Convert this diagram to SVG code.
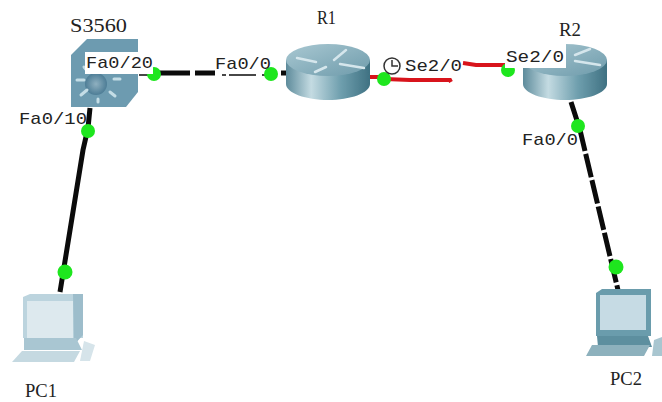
<svg xmlns="http://www.w3.org/2000/svg" width="662" height="402" viewBox="0 0 662 402">
<defs>
<linearGradient id="rb" x1="0" x2="1" y1="0" y2="0"><stop offset="0" stop-color="#5d8b9b"/><stop offset=".3" stop-color="#c4dbe2"/><stop offset=".65" stop-color="#6f9fae"/><stop offset="1" stop-color="#3f7182"/></linearGradient>
<linearGradient id="rt" x1="0" x2="1" y1="0" y2="1"><stop offset="0" stop-color="#a9c8d2"/><stop offset="1" stop-color="#6e9bab"/></linearGradient>
<radialGradient id="hub"><stop offset="0" stop-color="#8fb0c0"/><stop offset="1" stop-color="#4d7d96"/></radialGradient>
<filter id="soft" x="-10%" y="-10%" width="120%" height="120%"><feGaussianBlur stdDeviation=".7"/></filter>
<g id="router"><path d="M-42-12V12C-42 21-22 28 0 28S42 21 42 12V-12Z" fill="url(#rb)"/><ellipse cx="0" cy="-12" rx="42" ry="16" fill="url(#rt)"/></g>
</defs>
<style>
text{font-family:"Liberation Mono","DejaVu Sans Mono",monospace;font-size:17px;fill:#222}
.n{font-family:"Liberation Serif",serif;font-size:18px}
.eth{stroke:#0b0b0b;stroke-width:5;fill:none}
.thin{stroke:#0b0b0b;stroke-width:1.5;fill:none}
.ser{stroke:#d8141c;stroke-width:4;fill:none}
.dot{fill:#1ee61e}
.ray{stroke:#c4dde6;stroke-width:3;stroke-linecap:round;fill:none}
.wisp{stroke:#d5e6ec;stroke-width:2.5;fill:none;stroke-linecap:round}
</style>
<rect width="662" height="402" fill="#fff"/>
<g id="connectors">
<path class="eth" d="M90 108L88 128L83 150L60 292"/>
<path class="eth" d="M154 73H190M195 73H215"/>
<path class="thin" d="M139 75H150M222 75H226M229 75H256M262 75H266"/>
<path class="eth" d="M281 73H286"/>
<path class="ser" d="M370 77H384"/>
<path class="ser" d="M385 79L410 80H450L451 82"/>
<path class="ser" d="M463 63L476 65H506"/>
<path class="eth" d="M571 102L580 130L618 290" stroke-dasharray="24 3"/>
<circle class="dot" cx="154" cy="74" r="7"/>
<circle class="dot" cx="271" cy="74" r="7"/>
<circle class="dot" cx="384" cy="79" r="7"/>
<circle class="dot" cx="508" cy="70" r="7"/>
<circle class="dot" cx="88" cy="131" r="7"/>
<circle class="dot" cx="578" cy="126" r="7"/>
<circle class="dot" cx="65" cy="272" r="7.5"/>
<circle class="dot" cx="616" cy="267" r="7.5"/>
</g>
<g id="S3560">
<g filter="url(#soft)">
<path d="M87 39H138V92L126 107H71V55Z" fill="#6d9bb0"/>
<circle cx="96" cy="84" r="11" fill="url(#hub)"/>
<path class="ray" d="M77 80H84M114 79H120M81 95L87 90M84 67L88 72M98 99V102M110 92L115 96"/>
</g>
<rect x="85" y="52" width="68" height="22" fill="#fff"/>
<text class="n" x="70" y="32" textLength="57" lengthAdjust="spacingAndGlyphs">S3560</text>
<text x="86" y="68" textLength="67" lengthAdjust="spacingAndGlyphs">Fa0/20</text>
<text x="19" y="124" textLength="68" lengthAdjust="spacingAndGlyphs">Fa0/10</text>
</g>
<g id="R1">
<g filter="url(#soft)">
<use href="#router" x="328" y="72"/>
<path class="wisp" d="M297 58L316 62M334 60L346 50M340 64L364 68M315 72L326 67"/>
</g>
<text class="n" x="317" y="24" textLength="19" lengthAdjust="spacingAndGlyphs">R1</text>
<text x="215" y="69" textLength="56" lengthAdjust="spacingAndGlyphs">Fa0/0</text>
</g>
<g id="R2">
<g filter="url(#soft)">
<use href="#router" x="565" y="72"/>
<path class="wisp" d="M575 55L590 49M575 61L600 65"/>
</g>
<rect x="505" y="44" width="61" height="24" fill="#fff"/>
<text class="n" x="559" y="36" textLength="22" lengthAdjust="spacingAndGlyphs">R2</text>
<circle cx="392" cy="66" r="8" fill="#fff" stroke="#333" stroke-width="1.5"/>
<path d="M392 60V66H398" fill="none" stroke="#333" stroke-width="1.5"/>
<text x="405" y="71" textLength="57" lengthAdjust="spacingAndGlyphs">Se2/0</text>
<text x="506" y="62" textLength="58" lengthAdjust="spacingAndGlyphs">Se2/0</text>
<text x="522" y="145" textLength="56" lengthAdjust="spacingAndGlyphs">Fa0/0</text>
</g>
<g id="PC1">
<g filter="url(#soft)">
<path d="M23 297L30 294H83V338H23Z" fill="#bcd4de"/>
<path d="M73 294H83V335L74 345Z" fill="#9dbdcb"/>
<rect x="27" y="301" width="46" height="37" fill="#dde9ee"/>
<path d="M24 338H76L82 350H24Z" fill="#a9c6d2"/>
<path d="M22 351H80L74 362H12Z" fill="#c5d9e1"/>
<path d="M84 341L95 345L90 361H80Z" fill="#d6e4ea"/>
</g>
<text class="n" x="25" y="397" textLength="32" lengthAdjust="spacingAndGlyphs">PC1</text>
</g>
<g id="PC2">
<g filter="url(#soft)">
<path d="M596 293L602 289H651V336H596Z" fill="#6b9cac"/>
<rect x="600" y="295" width="46" height="35" fill="#c6dbe4"/>
<path d="M597 336H648L652 347H598Z" fill="#5d8f9f"/>
<path d="M592 345H650L644 356H586Z" fill="#8db1bd"/>
<path d="M654 340L662 337V356H652Z" fill="#a9c6d0"/>
</g>
<text class="n" x="610" y="385" textLength="32" lengthAdjust="spacingAndGlyphs">PC2</text>
</g>
</svg>
